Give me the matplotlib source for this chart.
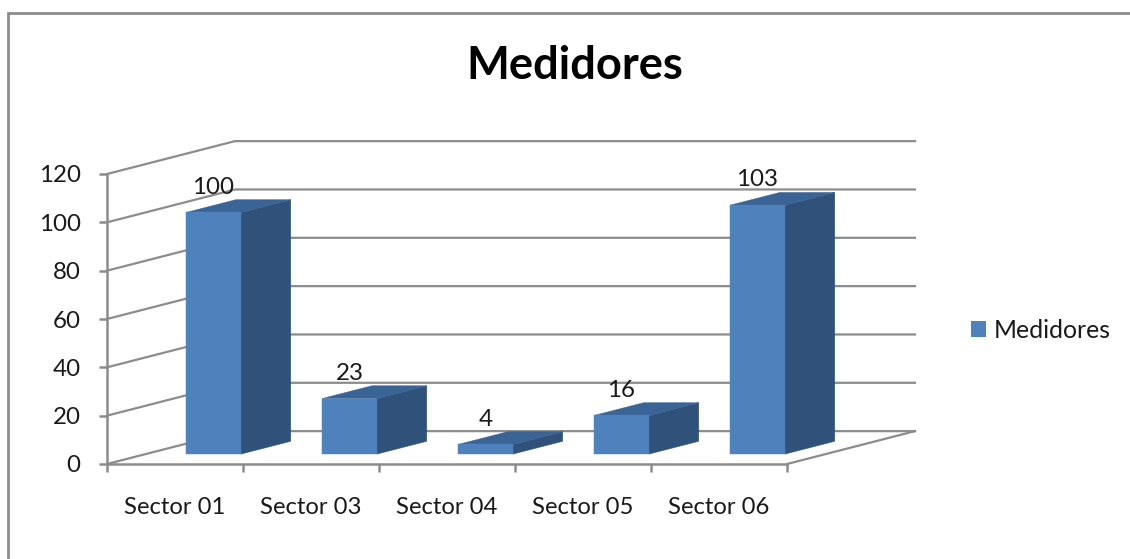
import matplotlib
matplotlib.use("Agg")
import matplotlib.pyplot as plt
from matplotlib.lines import Line2D
from matplotlib.patches import Patch

# chart data
sectors = ["Sector 01", "Sector 03", "Sector 04", "Sector 05", "Sector 06"]
medidores = [100, 23, 4, 16, 103]
y_ticks = [0, 20, 40, 60, 80, 100, 120]
series_name = "Medidores"

GRID = "#8c8c8c"
TEXT = "#1a1a1a"
FRONT = "#4f81bd"
SIDE = "#30527a"
TOP = "#3a6396"

# fake 3D: shift per unit of depth, in data units
DX = 0.941
DY = 13.6
BAR_W = 0.404
D0 = 0.3
D1 = 0.69

plt.rcParams["font.family"] = ["Lato", "DejaVu Sans"]
W, H = 1130, 559
fig = plt.figure(figsize=(W / 100, H / 100), dpi=100, facecolor="white")
ax = fig.add_axes([107 / W, (H - 464) / H, 680 / W, 290 / H])
ax.set_xlim(0, len(sectors))
ax.set_ylim(0, 120)
ax.patch.set_visible(False)


def pt(x, v, d):
    return x + d * DX, v + d * DY


def face(points, color, z):
    xs, ys = zip(*[pt(*p) for p in points])
    ax.fill(xs, ys, color=color, lw=0.3, zorder=z, clip_on=False)


# walls and floor
n = len(sectors)
for v in y_ticks:
    xs, ys = zip(pt(0, v, 0), pt(0, v, 1), pt(n, v, 1))
    ax.plot(xs, ys, color=GRID, lw=1.6, zorder=1, clip_on=False)
xs, ys = zip(pt(n, 0, 0), pt(n, 0, 1))
ax.plot(xs, ys, color=GRID, lw=1.6, zorder=1, clip_on=False)

# bars
for i, val in enumerate(medidores):
    x0 = i + 0.5 - BAR_W / 2
    x1 = i + 0.5 + BAR_W / 2
    face([(x1, 0, D0), (x1, 0, D1), (x1, val, D1), (x1, val, D0)], SIDE, 3)
    face([(x0, val, D0), (x1, val, D0), (x1, val, D1), (x0, val, D1)], TOP, 3)
    face([(x0, 0, D0), (x1, 0, D0), (x1, val, D0), (x0, val, D0)], FRONT, 4)
    ax.annotate(str(val), xy=pt(i + 0.5, val, D0), xytext=(0, 18.2),
                textcoords="offset points", ha="center", va="center",
                fontsize=17.4, color=TEXT, zorder=6, annotation_clip=False)

# axes
for side in ("top", "right"):
    ax.spines[side].set_visible(False)
for side in ("left", "bottom"):
    ax.spines[side].set_color(GRID)
    ax.spines[side].set_linewidth(1.8)
ax.set_yticks(y_ticks)
ax.set_xticks(range(n + 1))
ax.set_xticklabels([])
ax.set_xticks([i + 0.5 for i in range(n)], minor=True)
ax.set_xticklabels(sectors, minor=True)
ax.tick_params(axis="both", which="major", color=GRID, width=1.8, length=6)
ax.tick_params(axis="x", which="minor", length=0, pad=24, labelsize=17.2, labelcolor=TEXT)
ax.tick_params(axis="y", labelsize=17.4, labelcolor=TEXT, pad=13)

fig.text(575 / W, 1 - 66 / H, series_name, ha="center", va="center",
         fontsize=32.7, fontweight="bold", color="black")

fig.legend(handles=[Patch(facecolor=FRONT, label=series_name)],
           loc="center left", bbox_to_anchor=(964 / W, 1 - 330 / H),
           frameon=False, fontsize=17.8, labelcolor=TEXT, handlelength=0.6,
           handleheight=0.6, handletextpad=0.32, borderpad=0, borderaxespad=0.3)

# outer frame, only top and left are visible in the crop
fig.add_artist(Line2D([7.5 / W, 7.5 / W, 1], [0, 1 - 12.5 / H, 1 - 12.5 / H],
                      color=GRID, lw=2, solid_joinstyle="miter"))

fig.savefig("out.png", dpi=100, facecolor="white")
